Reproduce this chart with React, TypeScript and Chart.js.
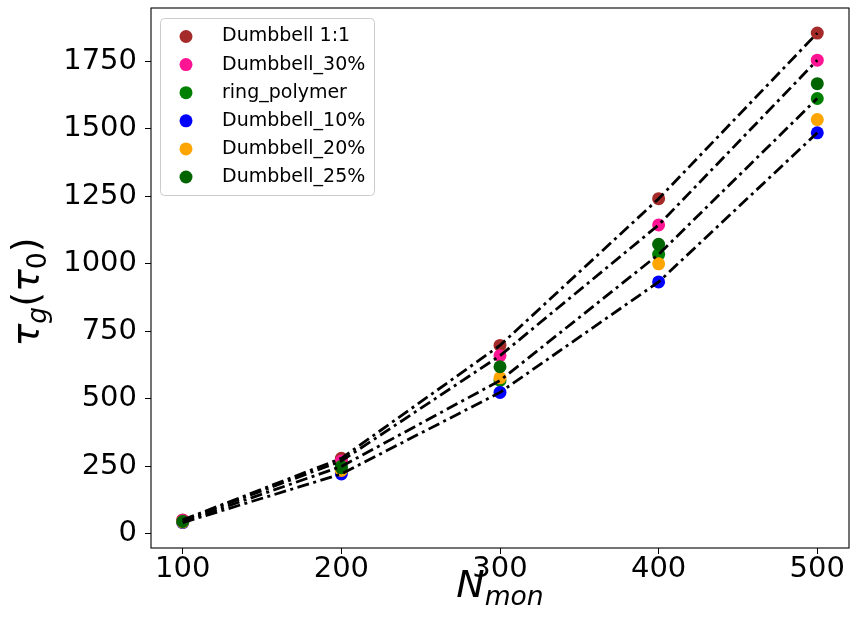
import React, { useEffect, useRef } from "react";
import { Chart, registerables } from "chart.js";

Chart.register(...registerables);

const nMon = [100, 200, 300, 400, 500];
const dumbbell11 = [52, 280, 698, 1241, 1854];
const dumbbell30 = [50, 270, 660, 1144, 1754];
const ringPolymer = [45, 250, 568, 1035, 1612];
const dumbbell10 = [42, 222, 524, 933, 1485];
const dumbbell20 = [44, 235, 578, 1000, 1534];
const dumbbell25 = [46, 245, 619, 1072, 1667];

const seriesNames = ["Dumbbell 1:1", "Dumbbell_30%", "ring_polymer", "Dumbbell_10%", "Dumbbell_20%", "Dumbbell_25%"];
const seriesColors = ["#a52a2a", "#ff1493", "#008000", "#0000ff", "#ffa500", "#006400"];
const seriesValues = [dumbbell11, dumbbell30, ringPolymer, dumbbell10, dumbbell20, dumbbell25];
const fittedSeries = [0, 1, 2, 3];

const xTicks = [100, 200, 300, 400, 500];
const yTicks = [0, 250, 500, 750, 1000, 1250, 1500, 1750];

const FONT = "'DejaVu Sans', sans-serif";

type Part = { t: string; it?: boolean; sub?: boolean };

function drawMath(ctx: CanvasRenderingContext2D, parts: Part[], size: number) {
  const fontFor = (p: Part) => {
    const s = p.sub ? size * 0.7 : size;
    return `${p.it ? "oblique " : ""}${s}px ${FONT}`;
  };
  let total = 0;
  const widths = parts.map((p) => {
    ctx.font = fontFor(p);
    const w = ctx.measureText(p.t).width;
    total += w;
    return w;
  });
  let x = -total / 2;
  ctx.textAlign = "left";
  ctx.textBaseline = "alphabetic";
  parts.forEach((p, i) => {
    ctx.font = fontFor(p);
    ctx.fillText(p.t, x, p.sub ? size * 0.22 : 0);
    x += widths[i];
  });
}

const decorPlugin = {
  id: "decor",
  afterDraw(chart: any) {
    const { ctx, chartArea: a } = chart;
    ctx.save();
    // frame
    ctx.strokeStyle = "#000";
    ctx.lineWidth = 1.1;
    ctx.strokeRect(a.left, a.top, a.right - a.left, a.bottom - a.top);

    // axis titles
    ctx.fillStyle = "#000";
    ctx.save();
    ctx.translate((a.left + a.right) / 2, 597);
    drawMath(ctx, [{ t: "N", it: true }, { t: "mon", it: true, sub: true }], 38);
    ctx.restore();
    ctx.save();
    ctx.translate(38, 292);
    ctx.rotate(-Math.PI / 2);
    drawMath(
      ctx,
      [
        { t: "τ", it: true },
        { t: "g", it: true, sub: true },
        { t: "(" },
        { t: "τ", it: true },
        { t: "0", sub: true },
        { t: ")" },
      ],
      38
    );
    ctx.restore();

    // legend
    const lx = 160, ly = 18, lw = 214, lh = 177;
    ctx.beginPath();
    ctx.roundRect(lx + 0.5, ly + 0.5, lw, lh, 4);
    ctx.fillStyle = "rgba(255,255,255,0.8)";
    ctx.fill();
    ctx.strokeStyle = "#cccccc";
    ctx.lineWidth = 1;
    ctx.stroke();
    ctx.font = `19px ${FONT}`;
    ctx.textAlign = "left";
    ctx.textBaseline = "middle";
    seriesNames.forEach((name, i) => {
      const y = 36.5 + i * 28.1;
      ctx.beginPath();
      ctx.arc(186, y, 6.5, 0, Math.PI * 2);
      ctx.fillStyle = seriesColors[i];
      ctx.fill();
      ctx.fillStyle = "#000";
      ctx.fillText(name, 222, y);
    });
    ctx.restore();
  },
};

export default function App() {
  const ref = useRef<HTMLCanvasElement>(null);
  useEffect(() => {
    if (!ref.current) return;
    const scatterSets = seriesValues.map((vals, i) => ({
      type: "scatter" as const,
      label: seriesNames[i],
      data: nMon.map((x, j) => ({ x, y: vals[j] })),
      backgroundColor: seriesColors[i],
      borderWidth: 0,
      pointRadius: 6.5,
      pointHoverRadius: 6.5,
      order: seriesValues.length - i,
    }));
    const lineSets = fittedSeries.map((k) => ({
      type: "line" as const,
      label: "fit " + seriesNames[k],
      data: nMon.map((x, j) => ({ x, y: seriesValues[k][j] })),
      borderColor: "#000",
      borderWidth: 2.8,
      borderDash: [12, 4.5, 3, 4.5],
      borderCapStyle: "butt" as const,
      pointRadius: 0,
      fill: false,
      tension: 0,
      order: 0,
    }));
    const tickFont = { family: FONT, size: 29 };
    const chart = new Chart(ref.current, {
      type: "scatter",
      data: { datasets: [...scatterSets, ...lineSets] as any },
      options: {
        animation: false,
        responsive: false,
        devicePixelRatio: 1,
        layout: { autoPadding: false, padding: { top: 8, right: 1, left: 0, bottom: 0 } },
        plugins: { legend: { display: false }, tooltip: { enabled: false } },
        scales: {
          x: {
            type: "linear",
            min: 80,
            max: 520,
            afterFit: (s: any) => {
              s.height = 84;
              s.paddingLeft = 0;
              s.paddingRight = 0;
            },
            afterBuildTicks: (s: any) => {
              s.ticks = xTicks.map((v) => ({ value: v }));
            },
            ticks: { font: tickFont, color: "#000", padding: -2, maxRotation: 0, callback: (v: any) => String(v) },
            grid: { display: true, drawOnChartArea: false, drawTicks: true, tickLength: 6, color: "#000", tickWidth: 1 },
            border: { display: false },
          },
          y: {
            type: "linear",
            min: -52,
            max: 1947,
            afterFit: (s: any) => {
              s.width = 151;
              s.paddingTop = 0;
              s.paddingBottom = 0;
            },
            afterBuildTicks: (s: any) => {
              s.ticks = yTicks.map((v) => ({ value: v }));
            },
            ticks: { font: tickFont, color: "#000", padding: 8, callback: (v: any) => String(v) },
            grid: { display: true, drawOnChartArea: false, drawTicks: true, tickLength: 6, color: "#000", tickWidth: 1 },
            border: { display: false },
          },
        },
      },
      plugins: [decorPlugin],
    });
    return () => chart.destroy();
  }, []);
  return (
    <div style={{ position: "fixed", left: 0, top: 0, width: 850, height: 632, background: "#fff" }}>
      <canvas ref={ref} width={850} height={632} style={{ width: 850, height: 632, display: "block" }} />
    </div>
  );
}
